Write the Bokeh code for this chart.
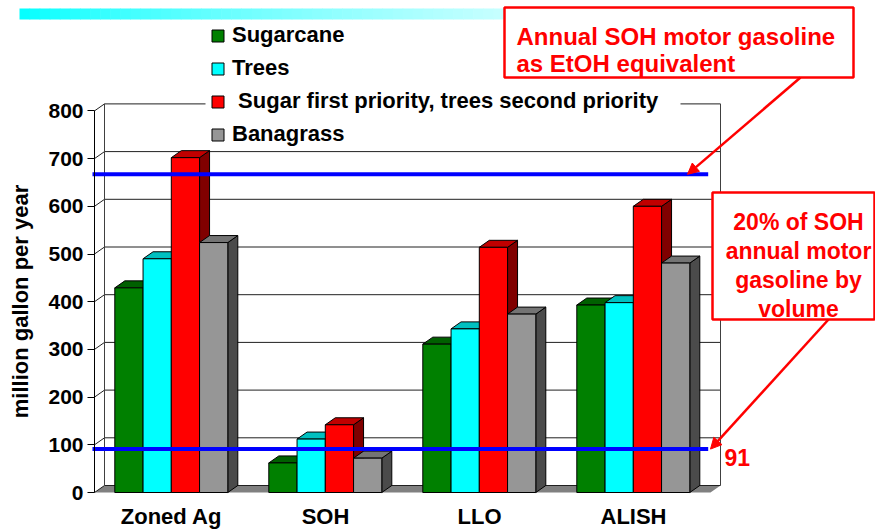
from bokeh.plotting import figure
from bokeh.models import (Range1d, FixedTicker, Legend, LegendItem, Label, Arrow,
                          NormalHead, BoxAnnotation)
from bokeh.embed import file_html
from bokeh.resources import INLINE

# ---------------- data ----------------
categories = ["Zoned Ag", "SOH", "LLO", "ALISH"]
series_labels = ["Sugarcane", "Trees", " Sugar first priority, trees second priority", "Banagrass"]
sugarcane = [429, 62, 311, 393]
trees = [490, 112, 343, 398]
sugar_first_trees_second = [702, 142, 514, 600]
banagrass = [524, 72, 374, 481]
y_ticks = [0, 100, 200, 300, 400, 500, 600, 700, 800]
soh_gasoline_etoh = 667      # Annual SOH motor gasoline as EtOH equivalent
soh_20pct = 91               # 20% of SOH annual motor gasoline

front_colors = ["#008000", "#00ffff", "#ff0000", "#969696"]
top_colors = ["#006000", "#00c0c0", "#c00000", "#747474"]
side_colors = ["#004000", "#008080", "#800000", "#4b4b4b"]

# ---------------- layout helpers (pixel -> data) ----------------
W, H = 875, 531
PX_PER_CAT = 154.0
PX_PER_UNIT = 0.477
AXIS_PX = 94          # x pixel of data x = 0
ZERO_PX = 492         # y pixel of data y = 0


def X(px):
    return (px - AXIS_PX) / PX_PER_CAT


def Y(py):
    return (ZERO_PX - py) / PX_PER_UNIT


FONT = "Liberation Sans"

p = figure(width=W, height=H,
           x_range=Range1d(X(0), X(W)),
           y_range=Range1d(Y(H), Y(0)),
           output_backend="svg", toolbar_location=None,
           min_border_left=0, min_border_right=0, min_border_top=0, min_border_bottom=0)
p.outline_line_color = None
p.grid.visible = False
p.background_fill_color = "white"
p.border_fill_color = "white"

ncat = len(categories)
group_off = 20.3 / PX_PER_CAT
bar_w = 28.25 / PX_PER_CAT
dxd = 10.0 / PX_PER_CAT
dyd = 7.0 / PX_PER_UNIT
top_val = y_ticks[-1]

# ---------------- 3D walls ----------------
p.quad(left=[dxd], right=[ncat + dxd], bottom=[dyd], top=[top_val + dyd],
       fill_color="white", line_color=None)
p.patch(x=[0, ncat, ncat + dxd, dxd], y=[0, 0, dyd, dyd], fill_color="#808080", line_color=None)
p.segment(x0=[dxd] * len(y_ticks), y0=[t + dyd for t in y_ticks],
          x1=[ncat + dxd] * len(y_ticks), y1=[t + dyd for t in y_ticks],
          line_color="#202020", line_width=1)
p.segment(x0=[0] * len(y_ticks), y0=y_ticks, x1=[dxd] * len(y_ticks), y1=[t + dyd for t in y_ticks],
          line_color="#202020", line_width=1)
p.segment(x0=[dxd, ncat + dxd], y0=[dyd, dyd], x1=[dxd, ncat + dxd], y1=[top_val + dyd, top_val + dyd],
          line_color="#404040", line_width=1)

# ---------------- 3D bars ----------------
series = [sugarcane, trees, sugar_first_trees_second, banagrass]
geo = []
for j, vals in enumerate(series):
    lefts = [i + group_off + j * bar_w for i in range(ncat)]
    rights = [l + bar_w for l in lefts]
    geo.append((lefts, rights, vals))

for j, (lefts, rights, vals) in enumerate(geo):
    p.patches(xs=[[r, r + dxd, r + dxd, r] for r in rights],
              ys=[[0, dyd, v + dyd, v] for v in vals],
              fill_color=side_colors[j], line_color="black", line_width=1)
for j, (lefts, rights, vals) in enumerate(geo):
    p.patches(xs=[[l, r, r + dxd, l + dxd] for l, r in zip(lefts, rights)],
              ys=[[v, v, v + dyd, v + dyd] for v in vals],
              fill_color=top_colors[j], line_color="black", line_width=1)
front_renderers = []
for j, (lefts, rights, vals) in enumerate(geo):
    r = p.quad(left=lefts, right=rights, bottom=[0] * ncat, top=vals,
               fill_color=front_colors[j], line_color="black", line_width=1)
    front_renderers.append(r)

# ---------------- reference lines ----------------
ref_values = [soh_gasoline_etoh, soh_20pct]
p.segment(x0=[-0.013] * 2, y0=ref_values, x1=[ncat - 0.015] * 2, y1=ref_values,
          line_color="#0000ff", line_width=4)

# ---------------- axes ----------------
yax = p.yaxis[0]
yax.fixed_location = 0
yax.ticker = FixedTicker(ticks=y_ticks)
yax.bounds = (y_ticks[0], y_ticks[-1])
yax.axis_line_color = "black"
yax.major_tick_out = 7
yax.major_tick_in = 0
yax.minor_tick_line_color = None
yax.major_label_standoff = 4
yax.major_label_text_font = FONT
yax.major_label_text_font_style = "bold"
yax.major_label_text_font_size = "21px"
yax.major_label_text_color = "black"
yax.axis_label = "million gallon per year"
yax.axis_label_text_font = FONT
yax.axis_label_text_font_style = "bold"
yax.axis_label_text_font_size = "22px"
yax.axis_label_text_color = "black"
yax.axis_label_standoff = 12

xax = p.xaxis[0]
xax.fixed_location = 0
xax.ticker = FixedTicker(ticks=[i + 0.5 for i in range(ncat)])
xax.major_label_overrides = {i + 0.5: c for i, c in enumerate(categories)}
xax.axis_line_color = None
xax.major_tick_line_color = None
xax.minor_tick_line_color = None
xax.major_tick_out = 0
xax.major_tick_in = 0
xax.major_label_standoff = 11
xax.major_label_text_font = FONT
xax.major_label_text_font_style = "bold"
xax.major_label_text_font_size = "22px"
xax.major_label_text_color = "black"

# ---------------- legend (white backing drawn separately so callouts stay on top) ----------------
p.add_layout(BoxAnnotation(left=X(205), right=X(680), top=Y(20), bottom=Y(146),
                           fill_color="white", fill_alpha=1.0, line_color=None))
legend = Legend(items=[LegendItem(label=series_labels[j], renderers=[front_renderers[j]])
                       for j in range(len(series))],
                location=(210, 345 + (H - ZERO_PX)), orientation="vertical",
                label_text_font=FONT, label_text_font_style="bold", label_text_font_size="22px",
                label_text_color="black", glyph_width=15, glyph_height=15, label_standoff=7,
                label_height=25, spacing=7, padding=4, margin=0,
                border_line_color=None, background_fill_alpha=0.0)
p.add_layout(legend)

# ---------------- decorative title bar (gradient) ----------------
n = 48
gx0, gx1 = 19, 503
for k in range(n):
    a = gx0 + (gx1 - gx0) * k / n
    b = gx0 + (gx1 - gx0) * (k + 1) / n + 0.6
    t = (k + 0.5) / n
    w = 0.78 * t ** 0.75
    col = "#%02xffff" % int(255 * w)
    p.add_layout(BoxAnnotation(left=X(a), right=X(b), top=Y(8), bottom=Y(19),
                               fill_color=col, fill_alpha=1.0, line_color=None, level="underlay"))

# ---------------- callouts ----------------
RED = "#ff0000"
p.add_layout(BoxAnnotation(left=X(504), right=X(853), top=Y(7), bottom=Y(77),
                           fill_color="white", fill_alpha=1.0, line_color=RED, line_alpha=1.0,
                           line_width=2.5, level="overlay"))
p.add_layout(BoxAnnotation(left=X(712), right=X(874), top=Y(192), bottom=Y(319),
                           fill_color="white", fill_alpha=1.0, line_color=RED, line_alpha=1.0,
                           line_width=2.5, level="overlay"))

for txt, py in [("Annual SOH motor gasoline", 36), ("as EtOH equivalent", 63)]:
    p.add_layout(Label(x=X(516), y=Y(py), text=txt, text_font=FONT, text_font_style="bold",
                       text_font_size="24px", text_color=RED, text_align="left",
                       text_baseline="alphabetic", level="overlay"))
for txt, py in [("20% of SOH", 221), ("annual motor", 250), ("gasoline by", 279), ("volume", 308)]:
    p.add_layout(Label(x=X(798), y=Y(py), text=txt, text_font=FONT, text_font_style="bold",
                       text_font_size="23px", text_color=RED, text_align="center",
                       text_baseline="alphabetic", level="overlay"))
p.add_layout(Label(x=X(724), y=Y(457), text=str(soh_20pct), text_font=FONT, text_font_style="bold",
                   text_font_size="23px", text_color=RED, text_align="left",
                   text_baseline="alphabetic", level="overlay"))

p.add_layout(Arrow(end=NormalHead(size=11, fill_color=RED, line_color=RED),
                   x_start=X(800), y_start=Y(77), x_end=X(687), y_end=soh_gasoline_etoh,
                   line_color=RED, line_width=2.5, level="overlay"))
p.add_layout(Arrow(end=NormalHead(size=11, fill_color=RED, line_color=RED),
                   x_start=X(828), y_start=Y(319), x_end=X(710), y_end=soh_20pct,
                   line_color=RED, line_width=2.5, level="overlay"))

open("out.html", "w").write(file_html(p, INLINE))
